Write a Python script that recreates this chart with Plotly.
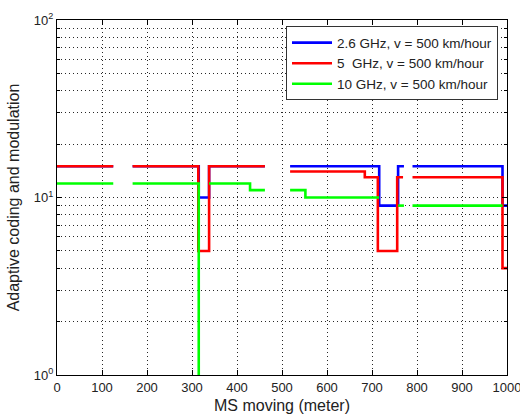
import plotly.graph_objects as go

# MS moving distance (meter) breakpoints and step values (None = gap)
blue_x = [0, 125, None, 168, 315, 338, 462, None, 518, 716, 758, 771, None, 790, 990, 1000]
blue_y = [15, 15, None, 15, 10, 15, 15, None, 15, 9, 15, 15, None, 15, 9, 9]

red_x = [0, 125, None, 168, 314, 338, 462, None, 518, 684, 713, 756, 769, None, 790, 990, 1000]
red_y = [15, 15, None, 15, 5, 15, 15, None, 14, 13, 5, 13, 13, None, 13, 4, 4]

green_x = [0, 125, None, 168, 315, None, 338, 429, 462, None, 518, 552, 716, None, 758, 771, None, 790, 990]
green_y = [12, 12, None, 12, 0.5, None, 12, 11, 11, None, 11, 10, 10, None, 9, 9, None, 9, 9]

names = ["2.6 GHz, v = 500 km/hour", "5  GHz, v = 500 km/hour", "10 GHz, v = 500 km/hour"]
colors = ["#0000FF", "#FF0000", "#00FF00"]

x_ticks = list(range(0, 1001, 100))
y_ticks = [1, 10, 100]
y_ticktext = ["10<sup>0</sup>", "10<sup>1</sup>", "10<sup>2</sup>"]
y_minor = [m * d for d in (1, 10) for m in range(2, 10)]

FONT = "Liberation Sans, Arial, sans-serif"

fig = go.Figure()
for xs, ys, nm, c in [(blue_x, blue_y, names[0], colors[0]),
                      (red_x, red_y, names[1], colors[1]),
                      (green_x, green_y, names[2], colors[2])]:
    fig.add_trace(go.Scatter(x=xs, y=ys, name=nm, mode="lines",
                             line=dict(color=c, width=2.6, shape="hv"),
                             connectgaps=False))

grid_col = "rgb(40,40,40)"
gdash = "1px,3px"
fig.update_layout(
    width=520, height=416,
    margin=dict(l=57, r=13, t=20, b=41),
    paper_bgcolor="white", plot_bgcolor="white",
    font=dict(family=FONT, size=13, color="#222"),
    showlegend=True,
    legend=dict(x=0.98, y=0.982, xanchor="right", yanchor="top",
                bgcolor="white", bordercolor="#333", borderwidth=1,
                font=dict(size=13.5), tracegroupgap=0, itemwidth=40),
    xaxis=dict(range=[0, 1000], tickvals=x_ticks, ticks="inside", ticklen=5,
               tickcolor="black", ticklabeloverflow="allow", automargin=False,
               showline=True, linecolor="black", linewidth=1, mirror="ticks",
               showgrid=True, gridcolor=grid_col, griddash=gdash, gridwidth=1,
               zeroline=False,
               title=dict(text="MS moving (meter)", standoff=6)),
    yaxis=dict(type="log", range=[0, 2], tickvals=y_ticks, ticktext=y_ticktext,
               ticks="inside", ticklen=5, tickcolor="black", automargin=False,
               showline=True, linecolor="black", linewidth=1, mirror="ticks",
               showgrid=True, gridcolor=grid_col, griddash=gdash, gridwidth=1,
               zeroline=False,
               minor=dict(tickvals=y_minor, ticks="inside", ticklen=3, tickcolor="black",
                          showgrid=True, gridcolor=grid_col, griddash=gdash, gridwidth=1),
               title=dict(text="Adaptive coding and modulation", standoff=10)),
)

fig.write_html("out.html")
